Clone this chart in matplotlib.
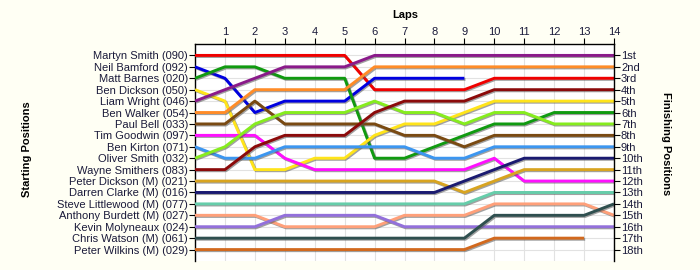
import numpy as np
import matplotlib
matplotlib.use("Agg")
import matplotlib.pyplot as plt
import matplotlib.patheffects as pe

plt.rcParams['font.family'] = ['Liberation Sans', 'DejaVu Sans']

laps = list(range(0, 15))

drivers = [
    "Martyn Smith (090)", "Neil Bamford (092)", "Matt Barnes (020)", "Ben Dickson (050)",
    "Liam Wright (046)", "Ben Walker (054)", "Paul Bell (033)", "Tim Goodwin (097)",
    "Ben Kirton (071)", "Oliver Smith (032)", "Wayne Smithers (083)", "Peter Dickson (M) (021)",
    "Darren Clarke (M) (016)", "Steve Littlewood (M) (077)", "Anthony Burdett (M) (027)",
    "Kevin Molyneaux (024)", "Chris Watson (M) (061)", "Peter Wilkins (M) (029)",
]

finish_labels = ["1st", "2nd", "3rd", "4th", "5th", "6th", "7th", "8th", "9th", "10th",
                 "11th", "12th", "13th", "14th", "15th", "16th", "17th", "18th"]

N = None
# positions per lap (lap 0 .. 14); None = not running
martyn_smith   = [1, 1, 1, 1, 1, 1, 4, 4, 4, 4, 3, 3, 3, 3, 3]
neil_bamford   = [2, 3, 6, 5, 5, 5, 3, 3, 3, 3, N, N, N, N, N]
matt_barnes    = [3, 2, 2, 3, 3, 3, 10, 10, 9, 8, 7, 7, 6, 6, 6]
ben_dickson    = [4, 5, 11, 11, 10, 10, 8, 7, 7, 6, 5, 5, 5, 5, 5]
liam_wright    = [5, 4, 3, 2, 2, 2, 1, 1, 1, 1, 1, 1, 1, 1, 1]
ben_walker     = [6, 6, 4, 4, 4, 4, 2, 2, 2, 2, 2, 2, 2, 2, 2]
paul_bell      = [7, 7, 5, 7, 7, 7, 7, 8, 8, 9, 8, 8, 8, 8, 8]
tim_goodwin    = [8, 8, 8, 10, 11, 11, 11, 11, 11, 11, 10, 12, 12, 12, 12]
ben_kirton     = [9, 10, 10, 9, 9, 9, 9, 9, 10, 10, 9, 9, 9, 9, 9]
oliver_smith   = [10, 9, 7, 6, 6, 6, 5, 6, 6, 7, 6, 6, 7, 7, 7]
wayne_smithers = [11, 11, 9, 8, 8, 8, 6, 5, 5, 5, 4, 4, 4, 4, 4]
peter_dickson  = [12, 12, 12, 12, 12, 12, 12, 12, 12, 13, 12, 11, 11, 11, 11]
darren_clarke  = [13, 13, 13, 13, 13, 13, 13, 13, 13, 12, 11, 10, 10, 10, 10]
steve_littlewood = [14, 14, 14, 14, 14, 14, 14, 14, 14, 14, 13, 13, 13, 13, 13]
anthony_burdett  = [15, 15, 15, 16, 16, 16, 16, 15, 15, 15, 14, 14, 14, 14, 15]
kevin_molyneaux  = [16, 16, 16, 15, 15, 15, 15, 16, 16, 16, 16, 16, 16, 16, 16]
chris_watson     = [17, 17, 17, 17, 17, 17, 17, 17, 17, 17, 15, 15, 15, 15, 14]
peter_wilkins    = [18, 18, 18, 18, 18, 18, 18, 18, 18, 18, 17, 17, 17, 17, N]

series = [martyn_smith, neil_bamford, matt_barnes, ben_dickson, liam_wright, ben_walker,
          paul_bell, tim_goodwin, ben_kirton, oliver_smith, wayne_smithers, peter_dickson,
          darren_clarke, steve_littlewood, anthony_burdett, kevin_molyneaux, chris_watson,
          peter_wilkins]

colors = ["#F00000", "#0000E0", "#109A10", "#FFE41A", "#8A1A8A", "#FF8C28", "#7A4A12",
          "#FF10FF", "#3C96F0", "#86EC1E", "#8B0A0A", "#D8A420", "#1A1A70", "#66CDAA",
          "#FFA07A", "#9370DB", "#2F4F4F", "#D2691E"]

bg = "#FFFFF4"
txt = "#1A1A3A"
fs = 8

fig = plt.figure(figsize=(7, 2.7), dpi=100, facecolor=bg)
ax = fig.add_axes([195/700, 1-261/270, (614-195)/700, (261-44)/270])
ax.set_facecolor("white")

ax.set_xlim(0, 14)
ax.set_ylim(19, 0)

# grid
ax.set_xticks(range(1, 15))
ax.set_yticks(range(1, 19))
ax.grid(True, color="#E2E2E2", linewidth=0.8, zorder=0)
ax.set_axisbelow(True)

for vals, c in zip(series, colors):
    y = np.array([np.nan if v is None else v for v in vals], dtype=float)
    ax.plot(laps, y, color=c, linewidth=2.1, solid_capstyle="butt", zorder=3,
            path_effects=[pe.SimpleLineShadow(offset=(0.8, -0.8), shadow_color="#555555", alpha=0.55),
                          pe.Normal()])

ax.xaxis.tick_top()
ax.set_xticklabels([str(i) for i in range(1, 15)], fontsize=fs, color=txt)
ax.set_yticklabels(drivers, fontsize=fs, color=txt)
ax.tick_params(axis="both", direction="out", length=4, width=0.8, color="black", pad=1)

for s in ["bottom", "right"]:
    ax.spines[s].set_visible(False)
ax.spines["top"].set_linewidth(1.0)
ax.spines["left"].set_linewidth(1.0)

ax2 = ax.twinx()
ax2.set_ylim(19, 0)
ax2.set_yticks(range(1, 19))
ax2.set_yticklabels(finish_labels, fontsize=fs, color=txt)
ax2.tick_params(axis="y", direction="out", length=4, width=0.8, color="black", pad=1)
for s in ["bottom", "left", "top"]:
    ax2.spines[s].set_visible(False)
ax2.spines["right"].set_linewidth(1.0)

fig.text(405/700, 1-15/270, "Laps", ha="center", va="center", fontsize=fs,
         fontweight="bold", color="black")
fig.text(27/700, 1-149/270, "Starting Positions", ha="center", va="center", rotation=90,
         fontsize=fs, fontweight="bold", color="black")
fig.text(666/700, 1-144/270, "Finishing Positions", ha="center", va="center", rotation=-90,
         fontsize=fs, fontweight="bold", color="black")

fig.savefig("out.png", dpi=100, facecolor=bg)
